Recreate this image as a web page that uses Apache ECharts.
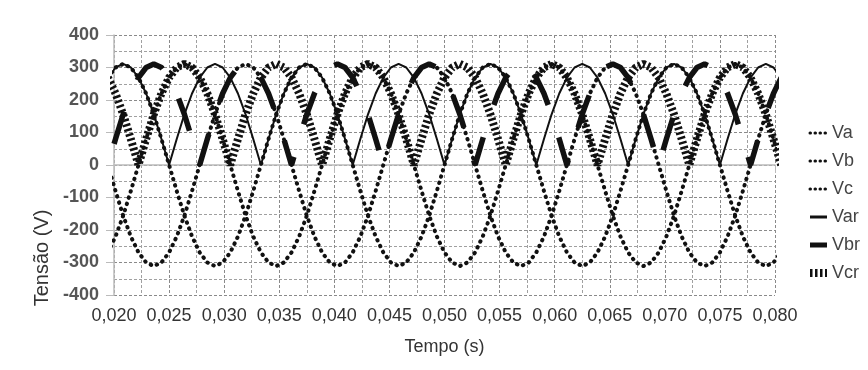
<!DOCTYPE html>
<html>
<head>
<meta charset="utf-8">
<script src="https://cdn.jsdelivr.net/npm/echarts@6/dist/echarts.min.js"></script>
<style>
  html, body { margin: 0; padding: 0; background: #fff; }
  #chart { width: 868px; height: 370px; }
</style>
</head>
<body>
<div id="chart"></div>
<script>
// tempo (s) - amostras a cada 1/1440 s
const tempo = [
  0.019444, 0.020139, 0.020833, 0.021528, 0.022222, 0.022917, 0.023611, 0.024306, 0.025, 0.025694,
  0.026389, 0.027083, 0.027778, 0.028472, 0.029167, 0.029861, 0.030556, 0.03125, 0.031944, 0.032639,
  0.033333, 0.034028, 0.034722, 0.035417, 0.036111, 0.036806, 0.0375, 0.038194, 0.038889, 0.039583,
  0.040278, 0.040972, 0.041667, 0.042361, 0.043056, 0.04375, 0.044444, 0.045139, 0.045833, 0.046528,
  0.047222, 0.047917, 0.048611, 0.049306, 0.05, 0.050694, 0.051389, 0.052083, 0.052778, 0.053472,
  0.054167, 0.054861, 0.055556, 0.05625, 0.056944, 0.057639, 0.058333, 0.059028, 0.059722, 0.060417,
  0.061111, 0.061806, 0.0625, 0.063194, 0.063889, 0.064583, 0.065278, 0.065972, 0.066667, 0.067361,
  0.068056, 0.06875, 0.069444, 0.070139, 0.070833, 0.071528, 0.072222, 0.072917, 0.073611, 0.074306,
  0.075, 0.075694, 0.076389, 0.077083, 0.077778, 0.078472, 0.079167, 0.079861, 0.080556
]

// tensões de fase (V)
const Va = [
  269, 300, 311, 300, 269, 220, 156, 80, 0, -80, -156, -220, -269, -300, -311, -300, -269, -220, -156, -80, 0, 80, 156, 220,
  269, 300, 311, 300, 269, 220, 156, 80, 0, -80, -156, -220, -269, -300, -311, -300, -269, -220, -156, -80, 0, 80, 156, 220,
  269, 300, 311, 300, 269, 220, 156, 80, 0, -80, -156, -220, -269, -300, -311, -300, -269, -220, -156, -80, 0, 80, 156, 220,
  269, 300, 311, 300, 269, 220, 156, 80, 0, -80, -156, -220, -269, -300, -311, -300, -269
]
const Vb = [
  0, -80, -156, -220, -269, -300, -311, -300, -269, -220, -156, -80, 0, 80, 156, 220, 269, 300, 311, 300, 269, 220, 156, 80,
  0, -80, -156, -220, -269, -300, -311, -300, -269, -220, -156, -80, 0, 80, 156, 220, 269, 300, 311, 300, 269, 220, 156, 80,
  0, -80, -156, -220, -269, -300, -311, -300, -269, -220, -156, -80, 0, 80, 156, 220, 269, 300, 311, 300, 269, 220, 156, 80,
  0, -80, -156, -220, -269, -300, -311, -300, -269, -220, -156, -80, 0, 80, 156, 220, 269
]
const Vc = [
  -269, -220, -156, -80, 0, 80, 156, 220, 269, 300, 311, 300, 269, 220, 156, 80, 0, -80, -156, -220, -269, -300, -311, -300,
  -269, -220, -156, -80, 0, 80, 156, 220, 269, 300, 311, 300, 269, 220, 156, 80, 0, -80, -156, -220, -269, -300, -311, -300,
  -269, -220, -156, -80, 0, 80, 156, 220, 269, 300, 311, 300, 269, 220, 156, 80, 0, -80, -156, -220, -269, -300, -311, -300,
  -269, -220, -156, -80, 0, 80, 156, 220, 269, 300, 311, 300, 269, 220, 156, 80, 0
]

// tensões retificadas (V)
const Var = [
  269, 300, 311, 300, 269, 220, 156, 80, 0, 80, 156, 220,
  269, 300, 311, 300, 269, 220, 156, 80, 0, 80, 156, 220,
  269, 300, 311, 300, 269, 220, 156, 80, 0, 80, 156, 220,
  269, 300, 311, 300, 269, 220, 156, 80, 0, 80, 156, 220,
  269, 300, 311, 300, 269, 220, 156, 80, 0, 80, 156, 220,
  269, 300, 311, 300, 269, 220, 156, 80, 0, 80, 156, 220,
  269, 300, 311, 300, 269, 220, 156, 80, 0, 80, 156, 220,
  269, 300, 311, 300, 269
]
const Vbr = [
  0, 80, 156, 220, 269, 300, 311, 300, 269, 220, 156, 80,
  0, 80, 156, 220, 269, 300, 311, 300, 269, 220, 156, 80,
  0, 80, 156, 220, 269, 300, 311, 300, 269, 220, 156, 80,
  0, 80, 156, 220, 269, 300, 311, 300, 269, 220, 156, 80,
  0, 80, 156, 220, 269, 300, 311, 300, 269, 220, 156, 80,
  0, 80, 156, 220, 269, 300, 311, 300, 269, 220, 156, 80,
  0, 80, 156, 220, 269, 300, 311, 300, 269, 220, 156, 80,
  0, 80, 156, 220, 269
]
const Vcr = [
  269, 220, 156, 80, 0, 80, 156, 220, 269, 300, 311, 300,
  269, 220, 156, 80, 0, 80, 156, 220, 269, 300, 311, 300,
  269, 220, 156, 80, 0, 80, 156, 220, 269, 300, 311, 300,
  269, 220, 156, 80, 0, 80, 156, 220, 269, 300, 311, 300,
  269, 220, 156, 80, 0, 80, 156, 220, 269, 300, 311, 300,
  269, 220, 156, 80, 0, 80, 156, 220, 269, 300, 311, 300,
  269, 220, 156, 80, 0, 80, 156, 220, 269, 300, 311, 300,
  269, 220, 156, 80, 0
]

const pares = (v) => tempo.map((t, i) => [t, v[i]])

const cor = "#111"
const pontos = {color: cor, width: 4, type: [0.5, 6], cap: "round"}
const fino = {color: cor, width: 2}
const tracejado = {color: cor, width: 5.5, type: [34, 34], dashOffset: 46}
const listrado = {color: cor, width: 8, type: [2.5, 2.5]}

const gridLinha = {lineStyle: {color: "#8a8a8a", type: [3, 2], width: 1}}
const gridMenor = {lineStyle: {color: "#a0a0a0", type: [3, 2], width: 1}}

const linha = (name, data, style) => ({
  name,
  type: "line",
  data: pares(data),
  symbol: "none",
  color: cor,
  itemStyle: {color: cor},
  lineStyle: style,
  clip: true
})

const semSimbolo = {opacity: 0}
const pontosLegenda = {color: cor, width: 3, type: [0.5, 4.5], cap: "round", dashOffset: 0}

const chart = echarts.init(document.getElementById("chart"))
chart.setOption({
  animation: false,
  color: [cor],
  grid: {left: 114, right: 93, top: 35, bottom: 75},
  xAxis: {
    type: "value",
    min: 0.02,
    max: 0.08,
    interval: 0.005,
    name: "Tempo (s)",
    nameLocation: "middle",
    nameGap: 43,
    nameTextStyle: {fontFamily: "Liberation Sans", fontSize: 18, color: "#333"},
    axisLine: {show: true, lineStyle: {color: "#bbb", width: 1.5}},
    axisTick: {show: true, length: 8, lineStyle: {color: "#bbb"}},
    axisLabel: {
      margin: 12,
      fontFamily: "Liberation Sans",
      fontSize: 18,
      color: "#333",
      formatter: (v) => v.toFixed(3).replace(".", ",")
    },
    splitLine: {show: true, ...gridLinha},
    minorTick: {show: false, splitNumber: 2},
    minorSplitLine: {show: true, ...gridMenor}
  },
  yAxis: {
    type: "value",
    min: -400,
    max: 400,
    interval: 100,
    axisLine: {show: true, lineStyle: {color: "#bbb", width: 1.5}},
    axisTick: {show: true, length: 8, lineStyle: {color: "#bbb"}},
    axisLabel: {
      margin: 15,
      fontFamily: "Liberation Sans",
      fontWeight: "bold",
      fontSize: 18,
      color: "#555"
    },
    splitLine: {show: true, ...gridLinha},
    minorTick: {show: false, splitNumber: 2},
    minorSplitLine: {show: true, ...gridMenor}
  },
  legend: {
    orient: "vertical",
    left: 806,
    top: 124,
    padding: 0,
    itemWidth: 17,
    itemHeight: 10,
    itemGap: 10,
    textStyle: {fontFamily: "Liberation Sans", fontSize: 18, color: "#444", lineHeight: 18},
    data: [
      {name: "Va", lineStyle: pontosLegenda, itemStyle: semSimbolo},
      {name: "Vb", lineStyle: pontosLegenda, itemStyle: semSimbolo},
      {name: "Vc", lineStyle: pontosLegenda, itemStyle: semSimbolo},
      {name: "Var", lineStyle: {color: cor, width: 3, type: "solid", dashOffset: 0}, itemStyle: semSimbolo},
      {name: "Vbr", lineStyle: {color: cor, width: 5, type: "solid", dashOffset: 0}, itemStyle: semSimbolo},
      {name: "Vcr", lineStyle: {...listrado, dashOffset: 0}, itemStyle: semSimbolo}
    ]
  },
  graphic: [{
    type: "text",
    x: 42,
    y: 258,
    rotation: Math.PI / 2,
    style: {
      text: "Tensão (V)",
      font: "20px Liberation Sans",
      fill: "#333",
      align: "center",
      verticalAlign: "middle"
    }
  }],
  series: [
    linha("Va", Va, pontos),
    linha("Vb", Vb, pontos),
    linha("Vc", Vc, pontos),
    linha("Var", Var, fino),
    linha("Vbr", Vbr, tracejado),
    linha("Vcr", Vcr, listrado)
  ]
})
</script>
</body>
</html>
